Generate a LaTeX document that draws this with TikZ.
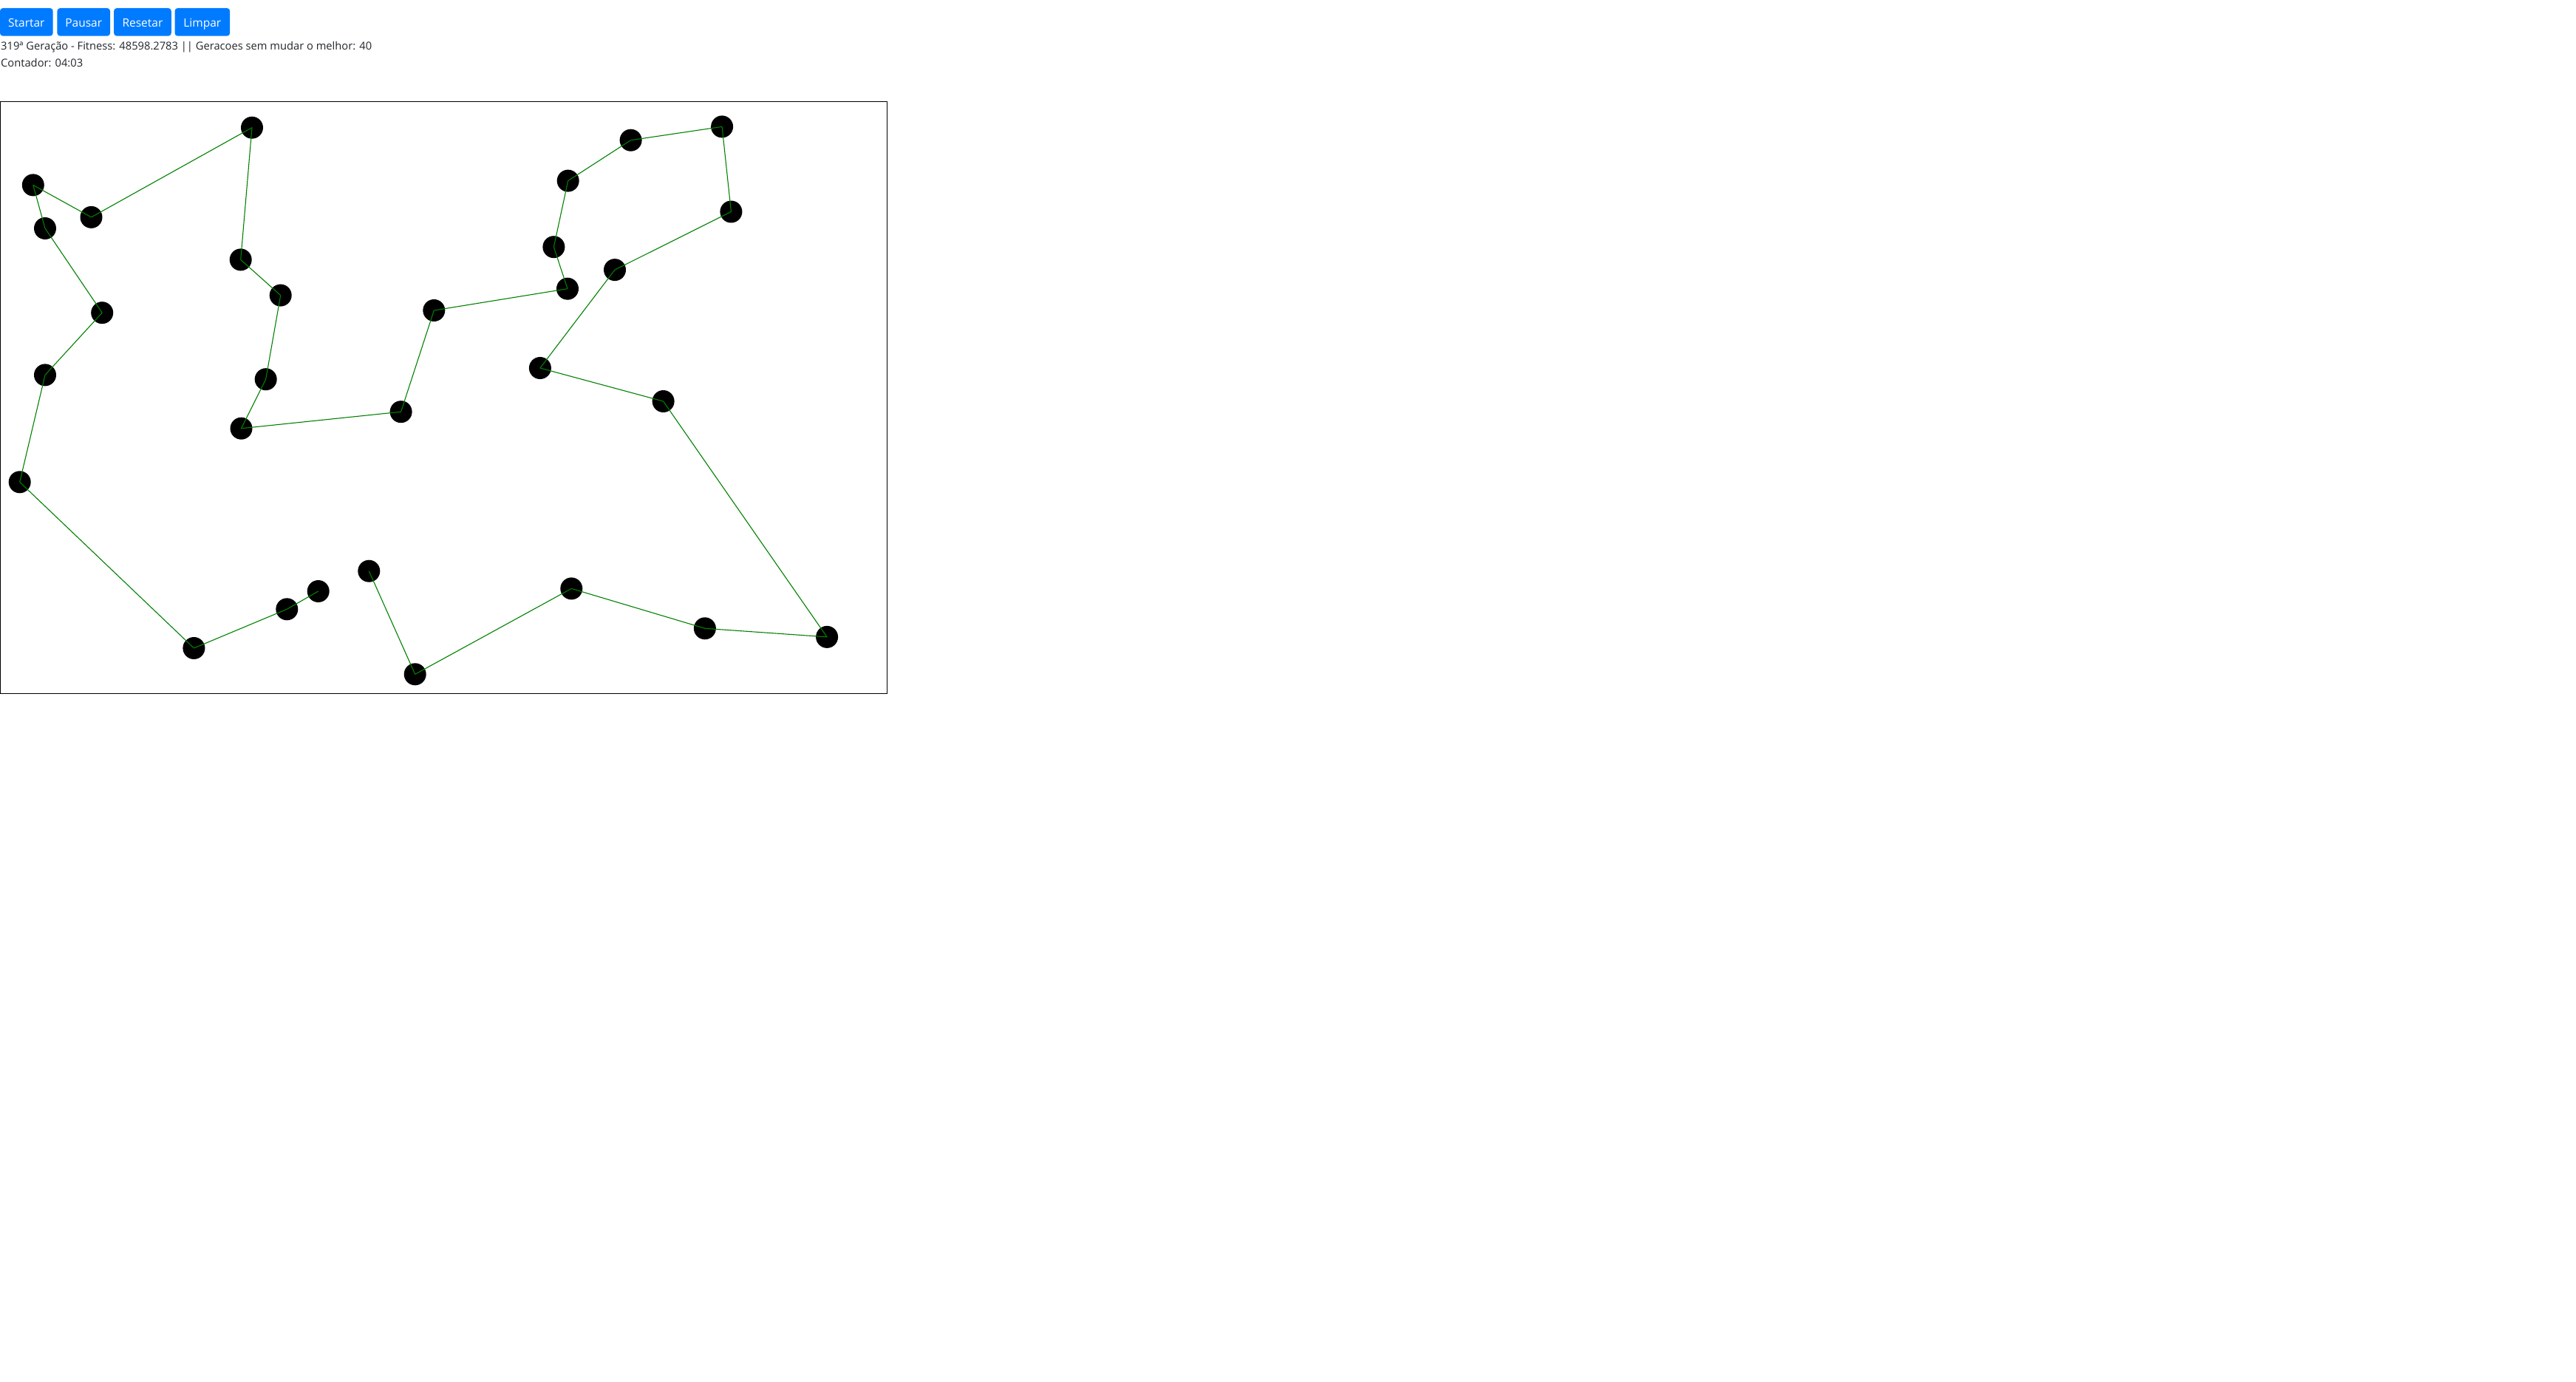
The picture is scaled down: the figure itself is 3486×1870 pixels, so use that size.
\documentclass[tikz,border=0pt]{standalone}
\usepackage{fontspec}
\setmainfont{Open Sans}
\usetikzlibrary{positioning}
\definecolor{botaoazul}{HTML}{007BFF}
\definecolor{texto}{HTML}{212529}
\definecolor{verde}{HTML}{008000}

\begin{document}
\begin{tikzpicture}[x=1pt,y=-1pt,node distance=4.7pt]
  \tikzstyle{cidade}=[circle,fill=black,minimum size=30pt,inner sep=0pt]
  \tikzstyle{botao}=[rectangle,rounded corners=4pt,fill=botaoazul,text=white,
                     minimum height=37.7pt,inner sep=0pt,font=\fontsize{15.5}{18}\selectfont,
                     text height=16pt,text depth=2.3pt]
  \tikzstyle{info}=[anchor=base west,inner sep=0pt,text=texto,font=\fontsize{14.7}{17}\selectfont]
  \tikzstyle{rota}=[draw=verde,line width=1.1pt]

  \useasboundingbox (0,0) rectangle (3486,1870);

  % botoes
  \node[botao,minimum width=71.7pt] (startar) at (35.85,29.85) {Startar};
  \node[botao,minimum width=71.7pt] (pausar)  [right=5.3pt of startar] {Pausar};
  \node[botao,minimum width=77.7pt] (resetar) [right=4.6pt of pausar]  {Resetar};
  \node[botao,minimum width=74.7pt] (limpar)  [right=4.3pt of resetar] {Limpar};

  \node[info] (geracao)  at (1,67.3) {319ª Geração - Fitness: 48598.2783 || Geracoes sem mudar o melhor: 40};
  \node[info] (contador) at (1,90.7) {Contador: 04:03};

  % canvas
  \draw[line width=1.3pt] (0.65,137.5) rectangle (1200.7,938.3);

  \node[cidade] (c1)  at (499.3,772.7) {};
  \node[cidade] (c2)  at (561.7,912.3) {};
  \node[cidade] (c3)  at (773.3,796.4) {};
  \node[cidade] (c4)  at (953.9,850.3) {};
  \node[cidade] (c5)  at (1119.1,861.9) {};
  \node[cidade] (c6)  at (897.6,543.0) {};
  \node[cidade] (c7)  at (730.9,498.0) {};
  \node[cidade] (c8)  at (832.0,365.1) {};
  \node[cidade] (c9)  at (989.4,286.5) {};
  \node[cidade] (c10) at (977.1,171.4) {};
  \node[cidade] (c11) at (853.6,189.7) {};
  \node[cidade] (c12) at (768.7,244.6) {};
  \node[cidade] (c13) at (749.4,334.2) {};
  \node[cidade] (c14) at (768.0,390.7) {};
  \node[cidade] (c15) at (587.3,420.0) {};
  \node[cidade] (c16) at (542.6,557.2) {};
  \node[cidade] (c17) at (326.5,579.7) {};
  \node[cidade] (c18) at (359.7,513.2) {};
  \node[cidade] (c19) at (379.7,399.6) {};
  \node[cidade] (c20) at (325.7,351.4) {};
  \node[cidade] (c21) at (341.0,172.7) {};
  \node[cidade] (c22) at (123.5,293.9) {};
  \node[cidade] (c23) at (44.8,250.4) {};
  \node[cidade] (c24) at (61.0,309.0) {};
  \node[cidade] (c25) at (138.2,423.2) {};
  \node[cidade] (c26) at (61.0,507.4) {};
  \node[cidade] (c27) at (26.7,652.3) {};
  \node[cidade] (c28) at (262.4,877.0) {};
  \node[cidade] (c29) at (388.3,824.3) {};
  \node[cidade] (c30) at (430.7,800.0) {};

  % melhor rota
  \path[rota]
(c1.center)  edge (c2.center)
(c2.center)  edge (c3.center)
(c3.center)  edge (c4.center)
(c4.center)  edge (c5.center)
(c5.center)  edge (c6.center)
(c6.center)  edge (c7.center)
(c7.center)  edge (c8.center)
(c8.center)  edge (c9.center)
(c9.center)  edge (c10.center)
(c10.center) edge (c11.center)
(c11.center) edge (c12.center)
(c12.center) edge (c13.center)
(c13.center) edge (c14.center)
(c14.center) edge (c15.center)
(c15.center) edge (c16.center)
(c16.center) edge (c17.center)
(c17.center) edge (c18.center)
(c18.center) edge (c19.center)
(c19.center) edge (c20.center)
(c20.center) edge (c21.center)
(c21.center) edge (c22.center)
(c22.center) edge (c23.center)
(c23.center) edge (c24.center)
(c24.center) edge (c25.center)
(c25.center) edge (c26.center)
(c26.center) edge (c27.center)
(c27.center) edge (c28.center)
(c28.center) edge (c29.center)
(c29.center) edge (c30.center);
\end{tikzpicture}
\end{document}
